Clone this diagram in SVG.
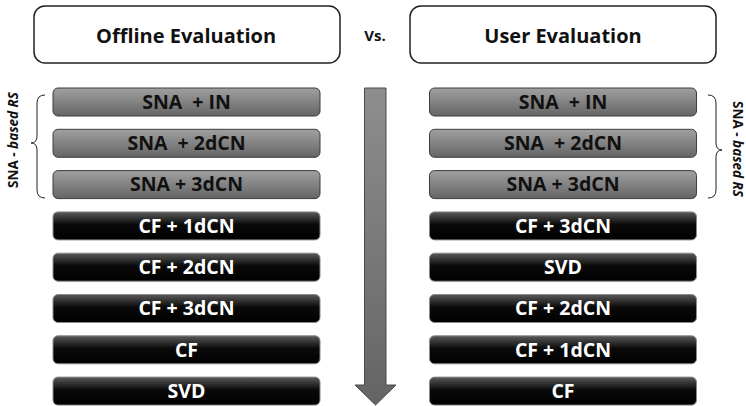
<svg xmlns="http://www.w3.org/2000/svg" width="746" height="406" viewBox="0 0 746 406">
<style>
  .title { font-family: "Open Sans", "DejaVu Sans", sans-serif; font-weight: bold; font-size: 20px; fill: #111; text-anchor: middle; }
  .vs { font-family: "Open Sans", "DejaVu Sans", sans-serif; font-weight: bold; font-size: 15px; fill: #111; text-anchor: middle; }
  .lbl { font-family: "Open Sans", "DejaVu Sans", sans-serif; font-weight: bold; font-size: 19.5px; text-anchor: middle; white-space: pre; }
  .lg { fill: #111; }
  .ld { fill: #fff; }
  .side { font-family: "Open Sans", "DejaVu Sans", sans-serif; font-weight: bold; font-size: 13.5px; fill: #111; text-anchor: middle; white-space: pre; }
  .hdr { fill: #fff; stroke: #222; stroke-width: 1.5; }
  .gbox { fill: url(#gg); stroke: #3c3c3c; stroke-width: 1; }
  .dbox { fill: url(#dg); stroke: #8a8a8a; stroke-width: 1; }
  .brace { fill: none; stroke: #222; stroke-width: 1; }
</style>
<defs>
  <linearGradient id="gg" x1="0" y1="0" x2="0" y2="1">
    <stop offset="0" stop-color="#a0a0a0"/>
    <stop offset="1" stop-color="#656565"/>
  </linearGradient>
  <linearGradient id="dg" x1="0" y1="0" x2="0" y2="1">
    <stop offset="0" stop-color="#5a5a5a"/>
    <stop offset="0.45" stop-color="#0a0a0a"/>
    <stop offset="1" stop-color="#000"/>
  </linearGradient>
  <linearGradient id="ag" x1="0" y1="0" x2="0" y2="1">
    <stop offset="0" stop-color="#8e8e8e"/>
    <stop offset="1" stop-color="#646464"/>
  </linearGradient>
</defs>

<g id="offline-header">
  <rect class="hdr" x="34" y="6" width="306" height="57" rx="11"/>
  <text class="title" x="186" y="43">Offline Evaluation</text>
</g>
<g id="vs">
  <text class="vs" x="375" y="41">Vs.</text>
</g>
<g id="user-header">
  <rect class="hdr" x="410" y="6" width="306" height="57" rx="11"/>
  <text class="title" x="563" y="43">User Evaluation</text>
</g>

<g id="connectors">
  <path id="rank-arrow" d="M364.5,88 H386 V385 H396 L375.5,405 L355,385 H364.5 Z" fill="url(#ag)" stroke="#4a4a4a" stroke-width="1"/>
  <path id="left-brace" class="brace" d="M45,95 Q37,95 37,103 V136 Q37,143 31,143 Q37,143 37,150 V190 Q37,198 45,198"/>
  <path id="right-brace" class="brace" d="M708,95 Q716,95 716,103 V143 Q716,150 722,150 Q716,150 716,157 V190 Q716,198 708,198"/>
</g>

<g id="left-side-label">
  <text class="side" transform="translate(18,140) rotate(-90)">SNA - <tspan font-style="italic">based RS</tspan></text>
</g>
<g id="right-side-label">
  <text class="side" transform="translate(733,149) rotate(90)">SNA - <tspan font-style="italic">based RS</tspan></text>
</g>

<g id="L1"><rect class="gbox" x="53" y="88" width="267" height="28" rx="5"/><text class="lbl lg" x="186.5" y="108.8">SNA  + IN</text></g>
<g id="L2"><rect class="gbox" x="53" y="129.3" width="267" height="28" rx="5"/><text class="lbl lg" x="186.5" y="150.1">SNA  + 2dCN</text></g>
<g id="L3"><rect class="gbox" x="53" y="170.6" width="267" height="28" rx="5"/><text class="lbl lg" x="186.5" y="191.4">SNA + 3dCN</text></g>
<g id="L4"><rect class="dbox" x="53" y="211.9" width="267" height="28" rx="5"/><text class="lbl ld" x="186.5" y="232.7">CF + 1dCN</text></g>
<g id="L5"><rect class="dbox" x="53" y="253.2" width="267" height="28" rx="5"/><text class="lbl ld" x="186.5" y="274">CF + 2dCN</text></g>
<g id="L6"><rect class="dbox" x="53" y="294.5" width="267" height="28" rx="5"/><text class="lbl ld" x="186.5" y="315.3">CF + 3dCN</text></g>
<g id="L7"><rect class="dbox" x="53" y="335.8" width="267" height="28" rx="5"/><text class="lbl ld" x="186.5" y="356.6">CF</text></g>
<g id="L8"><rect class="dbox" x="53" y="377.1" width="267" height="28" rx="5"/><text class="lbl ld" x="186.5" y="397.9">SVD</text></g>

<g id="R1"><rect class="gbox" x="429.5" y="88" width="267" height="28" rx="5"/><text class="lbl lg" x="563" y="108.8">SNA  + IN</text></g>
<g id="R2"><rect class="gbox" x="429.5" y="129.3" width="267" height="28" rx="5"/><text class="lbl lg" x="563" y="150.1">SNA  + 2dCN</text></g>
<g id="R3"><rect class="gbox" x="429.5" y="170.6" width="267" height="28" rx="5"/><text class="lbl lg" x="563" y="191.4">SNA + 3dCN</text></g>
<g id="R4"><rect class="dbox" x="429.5" y="211.9" width="267" height="28" rx="5"/><text class="lbl ld" x="563" y="232.7">CF + 3dCN</text></g>
<g id="R5"><rect class="dbox" x="429.5" y="253.2" width="267" height="28" rx="5"/><text class="lbl ld" x="563" y="274">SVD</text></g>
<g id="R6"><rect class="dbox" x="429.5" y="294.5" width="267" height="28" rx="5"/><text class="lbl ld" x="563" y="315.3">CF + 2dCN</text></g>
<g id="R7"><rect class="dbox" x="429.5" y="335.8" width="267" height="28" rx="5"/><text class="lbl ld" x="563" y="356.6">CF + 1dCN</text></g>
<g id="R8"><rect class="dbox" x="429.5" y="377.1" width="267" height="28" rx="5"/><text class="lbl ld" x="563" y="397.9">CF</text></g>
</svg>
